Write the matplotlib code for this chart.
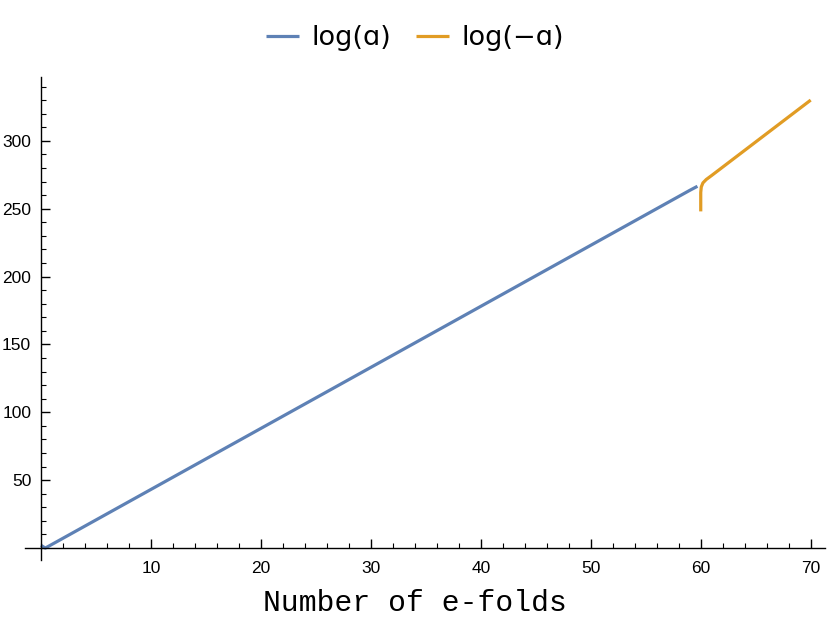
import matplotlib
matplotlib.use("Agg")
import matplotlib.pyplot as plt
from matplotlib.ticker import MultipleLocator

# values
efolds_pos = [0.0, 0.4, 59.0, 59.7]
log_a = [2.0, 0.0, 263.5, 266.5]

efolds_neg = [60.0, 60.0, 60.05, 60.2, 60.5, 61.0, 70.0]
log_neg_a = [248.0, 262.0, 266.0, 269.0, 271.5, 274.5, 330.0]

x_ticks = [10, 20, 30, 40, 50, 60, 70]
y_ticks = [50, 100, 150, 200, 250, 300]

blue = "#5E81B5"
orange = "#E19C24"

fig = plt.figure(figsize=(8.3, 6.17), dpi=100)
ax = fig.add_axes([25/830, 1-560/617, 800/830, 483/617])

ax.plot(efolds_pos, log_a, color=blue, lw=2.3, label="log(ɑ)", solid_capstyle="butt")
ax.plot(efolds_neg, log_neg_a, color=orange, lw=2.3, label="log(−ɑ)", solid_capstyle="butt")

ax.set_xlim(-1.45, 71.3)
ax.set_ylim(-8.8, 347)

for s in ["top", "right"]:
    ax.spines[s].set_visible(False)
ax.spines["left"].set_position(("data", 0))
ax.spines["bottom"].set_position(("data", 0))
ax.spines["left"].set_linewidth(1.0)
ax.spines["bottom"].set_linewidth(1.0)

ax.set_xticks(x_ticks)
ax.set_yticks(y_ticks)
ax.xaxis.set_minor_locator(MultipleLocator(2))
ax.yaxis.set_minor_locator(MultipleLocator(10))
ax.tick_params(axis="both", which="major", direction="in", length=6.5, width=1.0,
               labelsize=12.5)
ax.tick_params(axis="both", which="minor", direction="in", length=3.5, width=0.8)
ax.tick_params(axis="y", which="major", pad=7)
ax.tick_params(axis="x", which="major", pad=9)
for lab in ax.get_xticklabels() + ax.get_yticklabels():
    lab.set_family(["Liberation Sans", "DejaVu Sans"])

fig.text(415/830, 1-603/617, "Number of e-folds", family="Liberation Mono",
         fontsize=21.4, ha="center", va="center")

leg = fig.legend(loc="center", bbox_to_anchor=(0.5, 1-38/617), ncol=2,
                 frameon=False, handlelength=1.2, handletextpad=0.45,
                 columnspacing=0.95, prop={"family": ["DejaVu Sans"], "size": 19.5})

fig.savefig("out.png", dpi=100)
